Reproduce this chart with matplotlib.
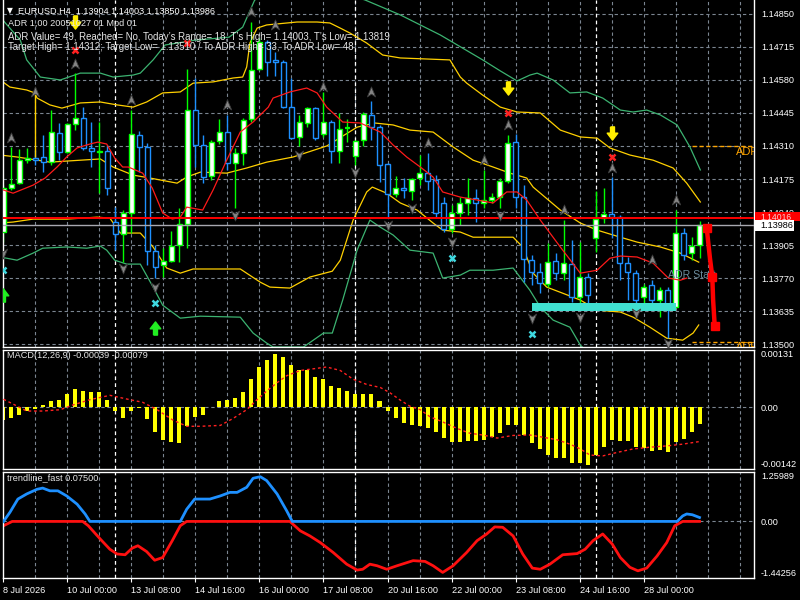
import matplotlib
matplotlib.use('Agg')
import numpy as np
import matplotlib.pyplot as plt
from matplotlib.path import Path
from matplotlib.patches import Rectangle

plt.rcParams['font.family'] = ['Liberation Sans', 'DejaVu Sans']

# ---------------- data: EURUSD H4 candles ----------------
opens = [1.13958, 1.14138, 1.14158, 1.14252, 1.14261, 1.14265, 1.14244, 1.14363, 1.14285, 1.14400,
         1.14424, 1.14302, 1.14287, 1.14289, 1.13999, 1.13950, 1.14036, 1.14355, 1.14306, 1.13880,
         1.13823, 1.13839, 1.13905, 1.13991, 1.14457, 1.14314, 1.14187, 1.14330, 1.14367, 1.14240,
         1.14281, 1.14420, 1.14625, 1.14735, 1.14662, 1.14653, 1.14469, 1.14347, 1.14404, 1.14465,
         1.14359, 1.14408, 1.14289, 1.14381, 1.14269, 1.14334, 1.14437, 1.14387, 1.14236, 1.14113,
         1.14138, 1.14126, 1.14179, 1.14199, 1.14171, 1.14077, 1.13970, 1.14036, 1.14077, 1.14097,
         1.14077, 1.14089, 1.14101, 1.14167, 1.14326, 1.14101, 1.13843, 1.13794, 1.13745, 1.13839,
         1.13790, 1.13827, 1.13692, 1.13774, 1.13933, 1.14015, 1.14032, 1.14019, 1.13831, 1.13790,
         1.13692, 1.13741, 1.13680, 1.13720, 1.13651, 1.13954, 1.13872, 1.13904]
highs = [1.14150, 1.14306, 1.14297, 1.14302, 1.14293, 1.14355, 1.14457, 1.14404, 1.14404, 1.14608,
         1.14469, 1.14408, 1.14408, 1.14314, 1.14060, 1.14048, 1.14457, 1.14371, 1.14322, 1.13905,
         1.13892, 1.13962, 1.14056, 1.14625, 1.14588, 1.14355, 1.14334, 1.14420, 1.14437, 1.14302,
         1.14424, 1.14817, 1.14752, 1.14743, 1.14694, 1.14662, 1.14588, 1.14437, 1.14469, 1.14469,
         1.14531, 1.14416, 1.14445, 1.14420, 1.14334, 1.14449, 1.14494, 1.14396, 1.14240, 1.14187,
         1.14179, 1.14179, 1.14273, 1.14281, 1.14191, 1.14101, 1.14068, 1.14101, 1.14179, 1.14134,
         1.14212, 1.14117, 1.14179, 1.14355, 1.14359, 1.14150, 1.13864, 1.13831, 1.13913, 1.13872,
         1.14007, 1.13925, 1.13917, 1.13790, 1.14126, 1.14138, 1.14183, 1.14027, 1.13856, 1.13802,
         1.13745, 1.13761, 1.13733, 1.13733, 1.14048, 1.13974, 1.13937, 1.14003]
lows = [1.13917, 1.14130, 1.14154, 1.14240, 1.14232, 1.14203, 1.14232, 1.14252, 1.14281, 1.14375,
        1.14293, 1.14224, 1.14117, 1.14109, 1.13884, 1.13835, 1.13954, 1.14203, 1.13823, 1.13770,
        1.13774, 1.13835, 1.13835, 1.13892, 1.14224, 1.14158, 1.14171, 1.14318, 1.14212, 1.14056,
        1.14232, 1.14408, 1.14621, 1.14596, 1.14596, 1.14465, 1.14338, 1.14310, 1.14387, 1.14334,
        1.14347, 1.14240, 1.14240, 1.14326, 1.14232, 1.14310, 1.14334, 1.14162, 1.14015, 1.14101,
        1.14097, 1.14089, 1.14150, 1.14130, 1.14019, 1.13958, 1.13954, 1.13987, 1.14027, 1.13999,
        1.14056, 1.14077, 1.14056, 1.14158, 1.14056, 1.13753, 1.13741, 1.13708, 1.13733, 1.13761,
        1.13761, 1.13672, 1.13647, 1.13667, 1.13876, 1.13995, 1.13933, 1.13761, 1.13680, 1.13651,
        1.13659, 1.13659, 1.13610, 1.13524, 1.13651, 1.13843, 1.13843, 1.13850]
closes = [1.14138, 1.14154, 1.14252, 1.14261, 1.14252, 1.14244, 1.14367, 1.14285, 1.14400, 1.14424,
          1.14302, 1.14289, 1.14291, 1.14138, 1.13950, 1.14036, 1.14359, 1.14306, 1.13880, 1.13815,
          1.13839, 1.13901, 1.13991, 1.14457, 1.14314, 1.14183, 1.14326, 1.14367, 1.14240, 1.14281,
          1.14416, 1.14621, 1.14735, 1.14653, 1.14653, 1.14469, 1.14342, 1.14408, 1.14465, 1.14342,
          1.14408, 1.14289, 1.14379, 1.14383, 1.14330, 1.14441, 1.14387, 1.14232, 1.14113, 1.14138,
          1.14130, 1.14175, 1.14199, 1.14167, 1.14036, 1.13970, 1.14036, 1.14077, 1.14097, 1.14077,
          1.14089, 1.14101, 1.14167, 1.14322, 1.14101, 1.13847, 1.13794, 1.13749, 1.13835, 1.13790,
          1.13831, 1.13692, 1.13774, 1.13700, 1.14011, 1.14032, 1.14019, 1.13831, 1.13794, 1.13680,
          1.13733, 1.13680, 1.13720, 1.13651, 1.13954, 1.13864, 1.13901, 1.13986]

date_ticks = [0, 8, 16, 24, 32, 40, 48, 56, 64, 72, 80]
date_labels = ['8 Jul 2026', '10 Jul 00:00', '13 Jul 08:00', '14 Jul 16:00', '16 Jul 00:00',
               '17 Jul 08:00', '20 Jul 16:00', '22 Jul 00:00', '23 Jul 08:00', '24 Jul 16:00',
               '28 Jul 00:00']
week_starts = [14, 44, 74]
price_ticks = [1.14850, 1.14715, 1.14580, 1.14445, 1.14310, 1.14175, 1.14040,
               1.13905, 1.13770, 1.13635, 1.13500]

# moving average (red) and envelope bands, read as (bar index, price) points
ma_x = [0, 1.2, 3.7, 5.2, 6.7, 7.9, 9.2, 10.8, 11.8, 12.9, 13.9, 14.9, 15.6, 17.4, 18.6, 19.9, 21.1,
        22.1, 22.9, 24.9, 26.2, 27.9, 29.6, 31.2, 33.1, 33.7, 35.8, 37.9, 39.2, 40.4, 42.4, 44.6,
        47.1, 48.7, 50.4, 52.1, 53.7, 54.9, 57.1, 59.2, 61.2, 62.9, 64.2, 65.4, 67.1, 69.6, 72.1,
        74.2, 75.8, 77.1, 79.2, 81.2, 83.1, 84.6, 85.4]
ma_y = [1.14130, 1.14117, 1.14150, 1.14179, 1.14224, 1.14265, 1.14302, 1.14318, 1.14326, 1.14318,
        1.14261, 1.14224, 1.14224, 1.14199, 1.14138, 1.14036, 1.14011, 1.14019, 1.14060, 1.14048,
        1.14130, 1.14252, 1.14367, 1.14408, 1.14469, 1.14506, 1.14531, 1.14547, 1.14527, 1.14469,
        1.14408, 1.14404, 1.14367, 1.14314, 1.14265, 1.14224, 1.14183, 1.14122, 1.14101, 1.14089,
        1.14077, 1.14122, 1.14122, 1.14089, 1.14007, 1.13897, 1.13790, 1.13802, 1.13851, 1.13860,
        1.13856, 1.13831, 1.13770, 1.13761, 1.13770]

green_up_x = [-0.4, 2.1, 2.9, 4.6, 7.1, 9.6, 12.1, 13.7, 16.2, 17.1, 18.7, 20.2, 24.0, 28.2, 29.9,
              31.4, 37.1, 45.2, 49.6, 54.6, 59.9, 62.1, 64.2, 65.8, 66.7, 68.7, 70.8, 72.9, 74.9,
              77.1, 78.7, 80.4, 82.1, 84.2, 85.8, 87.1]
green_up_y = [1.14837, 1.14743, 1.14662, 1.14592, 1.14580, 1.14608, 1.14608, 1.14592, 1.14600,
              1.14608, 1.14662, 1.14723, 1.14743, 1.14755, 1.14796, 1.14907, 1.14989, 1.14907,
              1.14846, 1.14764, 1.14662, 1.14617, 1.14576, 1.14600, 1.14608, 1.14580, 1.14527,
              1.14531, 1.14506, 1.14457, 1.14449, 1.14457, 1.14437, 1.14396, 1.14306, 1.14212]

yellow_up_x = [-0.4, 0.8, 2.9, 3.9, 4.2, 5.8, 7.3, 9.6, 12.1, 14.2, 16.2, 17.9, 19.9, 22.1, 23.7,
               26.2, 28.7, 29.9, 30.4, 30.8, 31.7, 32.9, 36.7, 39.2, 40.8, 42.1, 43.3, 45.4, 47.4,
               49.6, 55.8, 57.1, 57.9, 59.9, 62.1, 64.2, 67.1, 69.6, 72.1, 74.2, 75.8, 78.3, 81.2,
               83.7, 85.4, 87.1]
yellow_up_y = [1.14580, 1.14551, 1.14539, 1.14527, 1.14506, 1.14478, 1.14465, 1.14486, 1.14490,
               1.14478, 1.14469, 1.14490, 1.14527, 1.14531, 1.14567, 1.14572, 1.14588, 1.14592,
               1.14633, 1.14731, 1.14792, 1.14805, 1.14817, 1.14817, 1.14813, 1.14792, 1.14772,
               1.14731, 1.14682, 1.14670, 1.14662, 1.14592, 1.14567, 1.14518, 1.14469, 1.14449,
               1.14445, 1.14375, 1.14347, 1.14342, 1.14302, 1.14273, 1.14252, 1.14220, 1.14158,
               1.14081]

yellow_mid_x = [-0.4, 1.7, 5.8, 12.1, 13.7, 16.2, 18.3, 21.7, 22.9, 24.6, 27.9, 30.4, 32.9, 36.2,
                40.4, 44.2, 46.4, 48.7, 50.8, 53.7, 56.2, 58.7, 61.2, 63.3, 65.4, 66.2, 69.6, 72.1,
                74.2, 77.1, 79.2, 82.1, 84.6, 86.9]
yellow_mid_y = [1.14273, 1.14265, 1.14244, 1.14257, 1.14224, 1.14191, 1.14179, 1.14158, 1.14183,
                1.14203, 1.14199, 1.14220, 1.14244, 1.14265, 1.14310, 1.14387, 1.14404, 1.14396,
                1.14375, 1.14367, 1.14306, 1.14252, 1.14224, 1.14199, 1.14179, 1.14142, 1.14048,
                1.13995, 1.13966, 1.13937, 1.13917, 1.13897, 1.13872, 1.13835]

yellow_lo_x = [-0.4, 1.2, 3.7, 7.9, 11.7, 13.3, 14.6, 17.1, 18.7, 20.4, 22.1, 23.7, 29.6, 32.1, 33.3,
               35.8, 38.3, 41.1, 42.1, 43.7, 45.4, 46.1, 47.9, 49.6, 51.7, 53.7, 54.9, 57.1, 58.7,
               63.7, 64.9, 66.2, 67.9, 69.9, 72.1, 74.2, 77.1, 78.7, 80.8, 82.9, 84.9, 86.2, 86.9]
yellow_lo_y = [1.13995, 1.13999, 1.14011, 1.14011, 1.14019, 1.14015, 1.13954, 1.13954, 1.13897,
               1.13811, 1.13790, 1.13807, 1.13807, 1.13753, 1.13733, 1.13729, 1.13774, 1.13798,
               1.13843, 1.14007, 1.14122, 1.14142, 1.14117, 1.14077, 1.14048, 1.13995, 1.13966,
               1.13958, 1.13937, 1.13937, 1.13897, 1.13790, 1.13733, 1.13708, 1.13680, 1.13639,
               1.13631, 1.13610, 1.13569, 1.13524, 1.13516, 1.13545, 1.13578]

green_lo_x = [-0.4, 1.7, 3.7, 4.9, 7.9, 10.4, 12.1, 12.9, 13.9, 15.4, 17.1, 18.7, 19.9, 22.1, 24.6,
              29.6, 31.2, 32.9, 33.7, 37.5, 40.0, 41.1, 42.4, 44.2, 45.8, 47.1, 48.7, 50.8, 53.7,
              54.9, 57.1, 58.3, 61.2, 63.7, 65.8, 67.1, 68.7, 70.8, 72.1, 74.6]
green_lo_y = [1.13856, 1.13843, 1.13872, 1.13892, 1.13897, 1.13892, 1.13901, 1.13884, 1.13843,
              1.13827, 1.13827, 1.13733, 1.13659, 1.13606, 1.13614, 1.13610, 1.13545, 1.13504,
              1.13488, 1.13488, 1.13545, 1.13545, 1.13680, 1.13884, 1.14007, 1.13978, 1.13946,
              1.13884, 1.13872, 1.13770, 1.13782, 1.13802, 1.13802, 1.13811, 1.13720, 1.13651,
              1.13598, 1.13569, 1.13496, 1.13414]

# yellow vertical stroke at bar 4
yellow_stroke = (4, 1.14527, 1.14265)

# signal markers
frac_up_i = [1, 4, 9, 16, 28, 31, 34, 40, 46, 53, 60, 63, 70, 76, 81, 84]
frac_up_p = [1.14342, 1.14531, 1.14645, 1.14498, 1.14477, 1.14858, 1.14805, 1.14551, 1.14531,
             1.14322, 1.14252, 1.14396, 1.14048, 1.14220, 1.13843, 1.14089]
frac_dn_i = [0, 15, 19, 29, 37, 44, 48, 51, 56, 62, 66, 72, 79, 83]
frac_dn_p = [1.13872, 1.13811, 1.13733, 1.14027, 1.14273, 1.14203, 1.13987, 1.14056, 1.13917,
             1.14027, 1.13606, 1.13610, 1.13627, 1.13504]
cyan_x_i = [0, 19, 56, 66]
cyan_x_p = [1.13802, 1.13667, 1.13852, 1.13541]
red_x_i = [9, 23, 63, 76]
red_x_p = [1.14702, 1.14731, 1.14445, 1.14265]
sell_arrow_i = [9, 63, 76]
sell_arrow_p = [1.14817, 1.14547, 1.14363]
buy_arrow_i = [0, 19]
buy_arrow_p = [1.13700, 1.13565]

# ADR objects
zone_start, zone_end, zone_low, zone_high = 66, 84, 1.13637, 1.13667
adr_line_start = 86
adr_high, adr_low = 1.14312, 1.13510
adr_proj_x = [87.9, 88.3, 88.6, 88.7, 88.9]
adr_proj_y = [1.13974, 1.13852, 1.13774, 1.13680, 1.13573]
red_level = 1.14016

# MACD histogram and signal
macd = [-0.00029, -0.00026, -0.00018, -0.00010, -0.00004, 0.00004, 0.00015, 0.00017, 0.00029, 0.00041,
        0.00038, 0.00035, 0.00035, 0.00017, -0.00010, -0.00024, -0.00010, -0.00001, -0.00028, -0.00057,
        -0.00075, -0.00081, -0.00083, -0.00044, -0.00022, -0.00018, 0.00001, 0.00015, 0.00017, 0.00021,
        0.00035, 0.00064, 0.00092, 0.00109, 0.00121, 0.00114, 0.00097, 0.00085, 0.00084, 0.00070,
        0.00064, 0.00049, 0.00043, 0.00038, 0.00029, 0.00031, 0.00029, 0.00015, -0.00010, -0.00024,
        -0.00036, -0.00042, -0.00044, -0.00048, -0.00057, -0.00071, -0.00079, -0.00079, -0.00077, -0.00077,
        -0.00075, -0.00069, -0.00060, -0.00042, -0.00042, -0.00063, -0.00083, -0.00095, -0.00110, -0.00116,
        -0.00116, -0.00128, -0.00128, -0.00133, -0.00111, -0.00091, -0.00075, -0.00077, -0.00078, -0.00091,
        -0.00094, -0.00100, -0.00099, -0.00104, -0.00081, -0.00073, -0.00057, -0.00039]
signal_x = [0, 1.2, 2.9, 4.9, 7.1, 8.7, 10.8, 13.3, 15.8, 17.4, 19.2, 21.2, 22.9, 24.6, 27.1, 28.7,
            30.4, 31.7, 32.9, 34.2, 35.4, 37.1, 39.2, 40.4, 42.1, 43.7, 45.4, 47.1, 48.3, 49.6, 50.8,
            52.1, 53.3, 54.9, 56.7, 58.3, 59.9, 61.7, 63.7, 65.8, 67.4, 69.2, 70.8, 72.1, 73.3, 74.9,
            76.7, 78.7, 80.8, 82.9, 84.9, 87.0]
signal_y = [0.00018, 0.00007, -0.00009, -0.00009, -0.00006, 0.00005, 0.00017, 0.00027, 0.00017,
            0.00011, -0.00006, -0.00030, -0.00044, -0.00044, -0.00042, -0.00026, -0.00006, 0.00017,
            0.00037, 0.00056, 0.00072, 0.00084, 0.00089, 0.00092, 0.00084, 0.00064, 0.00052, 0.00045,
            0.00033, 0.00016, 0.00002, -0.00006, -0.00022, -0.00034, -0.00049, -0.00060, -0.00064,
            -0.00071, -0.00065, -0.00064, -0.00069, -0.00075, -0.00085, -0.00096, -0.00110, -0.00112,
            -0.00104, -0.00096, -0.00092, -0.00089, -0.00085, -0.00079]

# trendline_fast (blue = up part, red = down part)
tl_up_x = [0, 0.8, 1.8, 2.9, 4.2, 4.9, 5.8, 6.8, 7.9, 9.2, 10.2, 10.8, 22.1, 22.9, 23.9, 25.8, 27.1,
           28.3, 29.2, 30.4, 31.2, 32.1, 32.9, 34.2, 35.4, 36.1, 84.2, 84.9, 85.4, 86.1, 87.0]
tl_up_y = [0.0, 0.23, 0.57, 0.70, 0.82, 0.85, 0.78, 0.78, 0.65, 0.44, 0.19, 0.0, 0.0, 0.31, 0.57,
           0.57, 0.65, 0.74, 0.74, 0.87, 1.10, 1.14, 1.04, 0.70, 0.27, 0.0, 0.0, 0.14, 0.19, 0.17, 0.10]
tl_dn_x = [0, 1.1, 9.9, 10.6, 12.1, 13.3, 14.2, 15.2, 16.1, 16.8, 17.9, 18.9, 19.9, 21.1, 22.1, 22.9,
           35.8, 37.1, 38.3, 39.6, 41.2, 42.9, 44.2, 44.9, 45.8, 46.7, 47.9, 49.2, 51.2, 52.7, 53.7,
           54.9, 56.2, 57.9, 59.2, 60.4, 61.4, 62.4, 63.7, 64.9, 66.1, 67.1, 68.3, 69.9, 71.7, 72.7,
           73.7, 74.9, 76.1, 77.1, 78.3, 79.3, 80.4, 81.7, 82.9, 83.9, 84.9, 87.0]
tl_dn_y = [-0.11, 0.0, 0.0, -0.11, -0.45, -0.71, -0.83, -0.85, -0.68, -0.62, -0.77, -0.99, -0.92,
           -0.49, -0.11, 0.0, 0.0, -0.24, -0.37, -0.54, -0.79, -1.09, -1.24, -1.22, -1.09, -1.13,
           -1.22, -1.13, -1.00, -1.02, -1.13, -1.30, -1.13, -0.79, -0.49, -0.32, -0.14, -0.15, -0.37,
           -0.83, -1.19, -1.22, -1.09, -0.85, -0.82, -0.71, -0.49, -0.32, -0.58, -0.92, -1.17, -1.26,
           -1.19, -0.88, -0.54, -0.11, 0.0, 0.0]

# ---------------- layout helpers ----------------
W, H = 800, 600
BG = 'black'
GRID = '#7b8591'
TXT = '#e6e6e6'
FS = 6.6


def rect_px(x0, y0, x1, y1):
    return [x0 / W, 1 - y1 / H, (x1 - x0) / W, (y1 - y0) / H]


def fxy(x, y):
    return x / W, 1 - y / H


fig = plt.figure(figsize=(8, 6), dpi=100, facecolor=BG)
ax = fig.add_axes(rect_px(3, 0, 754, 347))
axm = fig.add_axes(rect_px(3, 350, 754, 469))
axt = fig.add_axes(rect_px(3, 472, 754, 578))

xlim = (-0.06, 93.81)
for a in (ax, axm, axt):
    a.set_facecolor(BG)
    a.set_xlim(*xlim)
    for s in a.spines.values():
        s.set_color('white')
        s.set_linewidth(1)
    a.yaxis.tick_right()
    a.tick_params(axis='y', colors='white', length=0, pad=5, labelsize=FS)
    a.tick_params(axis='x', length=0, labelbottom=False)
    for k in range(1, 24):
        a.axvline(4 * k, color=GRID, lw=0.8, ls=(0, (3, 2.5)), zorder=0.5)
    for w in week_starts:
        a.axvline(w, color='white', lw=0.9, ls=(0, (3, 2.5)), zorder=0.6)
ax.spines['top'].set_visible(False)

# ---------------- main price panel ----------------
ax.set_ylim(1.13488, 1.14907)
ax.set_yticks(price_ticks)
ax.set_yticklabels([f'{p:.5f}' for p in price_ticks])
for p in price_ticks:
    ax.axhline(p, color=GRID, lw=0.8, ls=(0, (3, 2.5)), zorder=0.5)

ax.plot(green_up_x, green_up_y, color='#3cb371', lw=0.9, zorder=1)
ax.plot(green_lo_x, green_lo_y, color='#3cb371', lw=0.9, zorder=1)
ax.plot(yellow_up_x, yellow_up_y, color='#ffd000', lw=0.9, zorder=1)
ax.plot(yellow_mid_x, yellow_mid_y, color='#ffd000', lw=0.9, zorder=1)
ax.plot(yellow_lo_x, yellow_lo_y, color='#ffd000', lw=0.9, zorder=1)

o = np.array(opens)
hh = np.array(highs)
ll = np.array(lows)
c = np.array(closes)
for i in range(len(o)):
    bull = c[i] >= o[i]
    col = '#00ff00' if bull else '#1e90ff'
    ax.vlines(i, ll[i], hh[i], color=col, lw=1, zorder=2)
    lo, hi = min(o[i], c[i]), max(o[i], c[i])
    if hi - lo < 0.00003:
        ax.hlines((lo + hi) / 2, i - 0.32, i + 0.32, color=col, lw=1.6, zorder=3)
    else:
        ax.add_patch(Rectangle((i - 0.28, lo), 0.56, hi - lo, facecolor='white' if bull else 'black',
                               edgecolor=col, lw=1, zorder=3))

ax.vlines(yellow_stroke[0], yellow_stroke[2], yellow_stroke[1], color='#ffd000', lw=1, zorder=3.5)
ax.plot(ma_x, ma_y, color='#ff1a1a', lw=0.9, zorder=4)

ax.axhline(red_level, color='#ff0000', lw=1.4, zorder=4.5)
ax.axhline(closes[-1], color='#a8a8b0', lw=1, zorder=4.5)

ax.add_patch(Rectangle((zone_start, zone_low), zone_end - zone_start, zone_high - zone_low,
                       facecolor='#40e0d0', edgecolor='none', zorder=4.6))

ax.hlines([adr_high, adr_low], adr_line_start, xlim[1], color='#ffa500', lw=1,
          linestyles=(0, (3, 2)), zorder=4)
ax.text(91.6, adr_high - 0.00025, 'ADR', color='#ffa500', fontsize=8, va='center',
        ha='left', clip_on=True, zorder=5)
ax.text(91.6, adr_low - 0.00003, 'ADR', color='#ffa500', fontsize=8, va='top',
        ha='left', clip_on=True, zorder=5)
ax.text(83.1, 1.13782, 'ADR Start', color='#6a8a9a', fontsize=7.6, va='center', ha='left', zorder=5)
ax.plot(adr_proj_x, adr_proj_y, color='#ff0000', lw=3.2, zorder=6, solid_capstyle='butt')
ax.plot([adr_proj_x[0], adr_proj_x[2], adr_proj_x[-1]], [adr_proj_y[0], adr_proj_y[2], adr_proj_y[-1]],
        ls='none', marker='s', ms=5.5, color='#ff0000', mec='#ff0000', zorder=6)

# markers
head_up = Path([(0, 1), (0.75, -0.8), (0, -0.3), (-0.75, -0.8), (0, 1)],
               [Path.MOVETO, Path.LINETO, Path.LINETO, Path.LINETO, Path.CLOSEPOLY])
head_dn = Path([(0, -1), (0.75, 0.8), (0, 0.3), (-0.75, 0.8), (0, -1)],
               [Path.MOVETO, Path.LINETO, Path.LINETO, Path.LINETO, Path.CLOSEPOLY])
arrow_dn = Path([(-0.3, 1), (0.3, 1), (0.3, 0.05), (0.8, 0.05), (0, -1), (-0.8, 0.05),
                 (-0.3, 0.05), (-0.3, 1)], None)
arrow_up = Path([(-0.3, -1), (0.3, -1), (0.3, -0.05), (0.8, -0.05), (0, 1), (-0.8, -0.05),
                 (-0.3, -0.05), (-0.3, -1)], None)

ax.plot(frac_up_i, frac_up_p, ls='none', marker=head_up, ms=8, mfc='#858585', mec='#3a3a3a',
        mew=0.6, zorder=5)
ax.plot(frac_dn_i, frac_dn_p, ls='none', marker=head_dn, ms=8, mfc='#858585', mec='#3a3a3a',
        mew=0.6, zorder=5)
ax.plot(cyan_x_i, cyan_x_p, ls='none', marker='x', ms=4.5, mew=1.8, color='#3fd8e0', zorder=5)
ax.plot(red_x_i, red_x_p, ls='none', marker='x', ms=4.5, mew=1.8, color='#ff2020', zorder=5)
ax.plot(sell_arrow_i, sell_arrow_p, ls='none', marker=arrow_dn, ms=9.5, color='#ffee00', zorder=6)
ax.plot(buy_arrow_i, buy_arrow_p, ls='none', marker=arrow_up, ms=9.5, color='#22ee22', zorder=6)

# ---------------- MACD panel ----------------
axm.set_ylim(-0.00142, 0.00131)
axm.axhline(0, color=GRID, lw=0.8, ls=(0, (3, 2.5)), zorder=0.5)
axm.bar(np.arange(len(macd)), macd, width=0.5, color='#ffff00', zorder=2)
axm.plot(signal_x, signal_y, color='#ff2020', lw=1, ls=(0, (2, 2)), zorder=3)
axm.set_yticks([0.00131, 0.0, -0.00142])
axm.set_yticklabels(['0.00131', '0.00', '-0.00142'])
lab = axm.get_yticklabels()
lab[0].set_va('top')
lab[2].set_va('bottom')
axm.text(0.5, 0.00131 - 0.00003, f'MACD(12,26,9) {macd[-1]:.5f} {signal_y[-1]:.5f}', color=TXT,
         fontsize=FS, va='top', ha='left')

# ---------------- trendline panel ----------------
axt.set_ylim(-1.44256, 1.25989)
axt.axhline(0, color=GRID, lw=0.8, ls=(0, (3, 2.5)), zorder=0.5)
axt.plot(tl_dn_x, tl_dn_y, color='#ff1010', lw=2, zorder=2)
axt.plot(tl_up_x, tl_up_y, color='#1e90ff', lw=2, zorder=3)
axt.set_yticks([1.25989, 0.0, -1.44256])
axt.set_yticklabels(['1.25989', '0.00', '-1.44256'])
lab = axt.get_yticklabels()
lab[0].set_va('top')
lab[2].set_va('bottom')
axt.text(0.5, 1.25989 - 0.04, 'trendline_fast 0.07500', color=TXT, fontsize=FS, va='top', ha='left')

axt.set_xticks(date_ticks)
axt.set_xticklabels(date_labels)
axt.tick_params(axis='x', colors='white', length=3, pad=3, labelbottom=True, labelsize=FS)
for t in axt.get_xticklabels():
    t.set_ha('left')

# ---------------- header texts ----------------
fig.text(*fxy(7, 11), '\u25bc', color='white', fontsize=5.5, va='center', ha='left', family='DejaVu Sans')
fig.text(*fxy(18, 11), f'EURUSD,H4  {opens[-1]:.5f} {highs[-1]:.5f} {lows[-1]:.5f} {closes[-1]:.5f}',
         color='white', fontsize=FS, va='center', ha='left')
fig.text(*fxy(8, 24), 'ADR 1,00 20051027 01 Mpd 01', color=TXT, fontsize=FS, va='center', ha='left')
fig.text(*fxy(8, 36.5), 'ADR Value= 49, Reached= No, Today\u2019s Range= 18, T\u2019s High= 1.14003, '
         'T\u2019s Low= 1.13819', color=TXT, fontsize=6.95, va='center', ha='left')
fig.text(*fxy(8, 47.5), 'Target High= 1.14312; Target Low= 1.13510 / To ADR High= 33, To ADR Low= 48',
         color=TXT, fontsize=6.95, va='center', ha='left')

# price boxes on the right scale
fig.add_artist(Rectangle(fxy(755, 221), 45 / W, 9 / H, transform=fig.transFigure,
                         facecolor='#ff0000', edgecolor='none', zorder=10))
fig.text(*fxy(760, 217.5), f'{red_level:.5f}', color='#ffd0d0', fontsize=6.2, va='center', ha='left', zorder=11)
fig.add_artist(Rectangle(fxy(755, 231), 39 / W, 11 / H, transform=fig.transFigure,
                         facecolor='white', edgecolor='none', zorder=12))
fig.text(*fxy(760, 225.5), f'{closes[-1]:.5f}', color='black', fontsize=FS, va='center', ha='left', zorder=13)

fig.savefig('out.png', dpi=100, facecolor=BG)
